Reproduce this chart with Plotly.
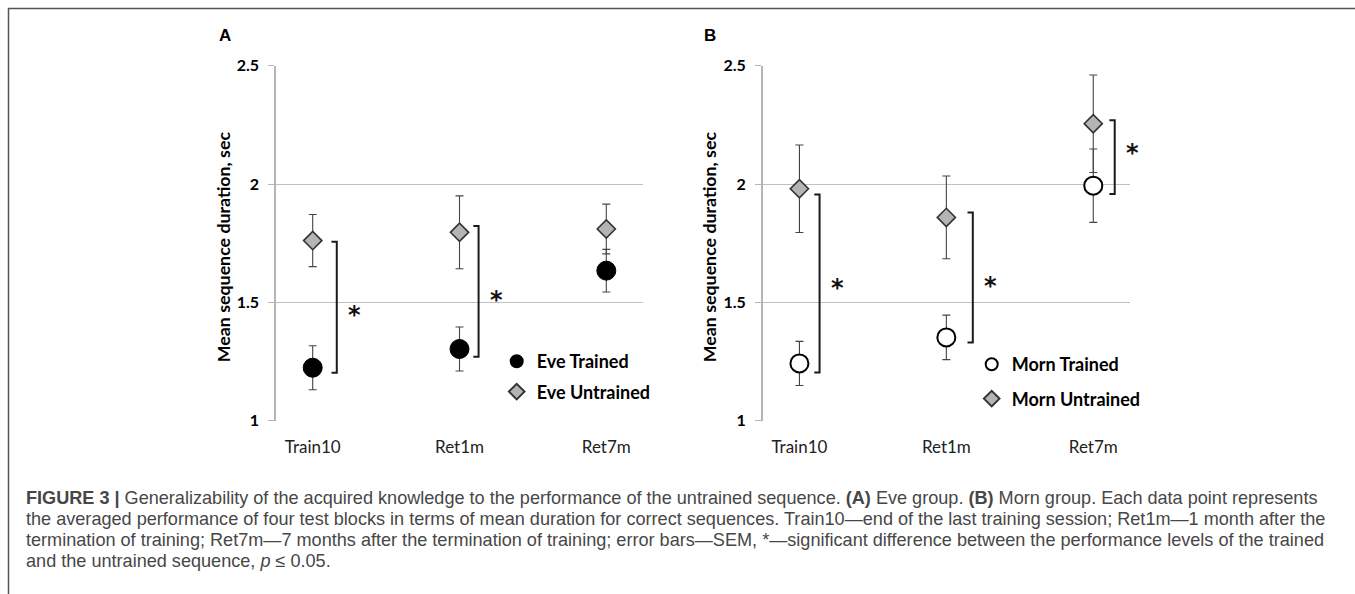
import plotly.graph_objects as go

W, H = 1355, 594

categories = ["Train10", "Ret1m", "Ret7m"]
y_ticks = [1, 1.5, 2, 2.5]
y_tick_labels = ["1", "1.5", "2", "2.5"]

eve_trained = [1.224, 1.303, 1.634]
eve_trained_sem = [0.093, 0.093, 0.090]
eve_untrained = [1.761, 1.796, 1.810]
eve_untrained_sem = [0.110, 0.154, 0.105]

morn_trained = [1.242, 1.352, 1.993]
morn_trained_sem = [0.093, 0.094, 0.155]
morn_untrained = [1.980, 1.859, 2.255]
morn_untrained_sem = [0.185, 0.175, 0.206]

# significance brackets: category index, top, bottom, star level
sig_a_idx = [0, 1]
sig_a_top = [1.756, 1.823]
sig_a_bottom = [1.203, 1.270]
sig_a_star = [1.460, 1.524]
sig_b_idx = [0, 1, 2]
sig_b_top = [1.956, 1.880, 2.270]
sig_b_bottom = [1.204, 1.330, 1.958]
sig_b_star = [1.573, 1.580, 2.144]

y_title = "Mean sequence duration, sec"
caption_lines = [
    "<b>FIGURE 3 |</b> Generalizability of the acquired knowledge to the performance of the untrained sequence. <b>(A)</b> Eve group. <b>(B)</b> Morn group. Each data point represents",
    "the averaged performance of four test blocks in terms of mean duration for correct sequences. Train10\u2014end of the last training session; Ret1m\u20141 month after the",
    "termination of training; Ret7m\u20147 months after the termination of training; error bars\u2014SEM, *\u2014significant difference between the performance levels of the trained",
    "and the untrained sequence, <i>p</i> \u2264 0.05.",
]

# ---- layout geometry (pixels) ----
xa0, xa1 = 276, 643
xb0, xb1 = 762.7, 1130
yt, yb = 65.7, 420.7


def px(x):
    return x / W


def py(y):
    return 1 - y / H


xidx = list(range(len(categories)))
CHART_FONT = "Lato, 'Open Sans', sans-serif"
ERR_COLOR = "#444444"

fig = go.Figure()


def add_series(name, y, sem, xaxis, yaxis, legend, symbol, fill, line_color, line_w, size):
    fig.add_trace(go.Scatter(
        x=xidx, y=y, mode="markers", name=name,
        xaxis=xaxis, yaxis=yaxis, legend=legend, legendgroup=name,
        marker=dict(symbol=symbol, size=size, color=fill,
                    line=dict(color=line_color, width=line_w)),
        error_y=dict(type="data", array=sem, visible=True,
                     color=ERR_COLOR, thickness=1.1, width=4),
        cliponaxis=False,
    ))


add_series("Eve Trained", eve_trained, eve_trained_sem, "x", "y", "legend",
           "circle", "#000000", "#000000", 1, 19)
add_series("Eve Untrained", eve_untrained, eve_untrained_sem, "x", "y", "legend",
           "diamond", "#b4b4b4", "#333333", 1.6, 14)
add_series("Morn Trained", morn_trained, morn_trained_sem, "x2", "y2", "legend2",
           "circle", "#ffffff", "#000000", 2, 18)
add_series("Morn Untrained", morn_untrained, morn_untrained_sem, "x2", "y2", "legend2",
           "diamond", "#b4b4b4", "#333333", 1.6, 14)

shapes = []
annotations = []

# brackets
BR_OFF = [0.164, 0.13]
BR_OFF_B = [0.137, 0.18, 0.146]
TICK = 0.036
STAR_SHIFT = 18  # px to the right of the bracket


def bracket(xref, yref, idx, top, bot, star, off):
    xb = idx + off
    path = f"M {xb - TICK} {top} L {xb} {top} L {xb} {bot} L {xb - TICK} {bot}"
    shapes.append(dict(type="path", path=path, xref=xref, yref=yref,
                       line=dict(color="#1a1a1a", width=2)))
    annotations.append(dict(x=xb, y=star, xref=xref, yref=yref,
                            text="<b>*</b>", showarrow=False, xanchor="center",
                            yanchor="middle", xshift=STAR_SHIFT, yshift=-3,
                            font=dict(family="DejaVu Sans, sans-serif", size=24, color="#111111")))


for i, t, b, s, o in zip(sig_a_idx, sig_a_top, sig_a_bottom, sig_a_star, BR_OFF):
    bracket("x", "y", i, t, b, s, o)
for i, t, b, s, o in zip(sig_b_idx, sig_b_top, sig_b_bottom, sig_b_star, BR_OFF_B):
    bracket("x2", "y2", i, t, b, s, o)

# frame lines
shapes.append(dict(type="line", xref="paper", yref="paper", x0=px(8), x1=1, y0=py(8.5), y1=py(8.5),
                   line=dict(color="#555555", width=1.5)))
shapes.append(dict(type="line", xref="paper", yref="paper", x0=px(8.5), x1=px(8.5), y0=py(8), y1=0,
                   line=dict(color="#555555", width=1.5)))

# panel labels
for lab, x, y in [("A", 225, 36), ("B", 710, 35)]:
    annotations.append(dict(x=px(x), y=py(y), xref="paper", yref="paper", text=f"<b>{lab}</b>",
                            showarrow=False, xanchor="center", yanchor="middle",
                            font=dict(family="Liberation Sans, Arial, sans-serif", size=17, color="#000")))

# y titles
for x in [223, 709]:
    annotations.append(dict(x=px(x), y=py((yt + yb) / 2 + 4), xref="paper", yref="paper",
                            text=f"<b>{y_title}</b>", textangle=-90, showarrow=False,
                            xanchor="center", yanchor="middle",
                            font=dict(family=CHART_FONT, size=17.8, color="#000")))

# caption
for k, line in enumerate(caption_lines):
    annotations.append(dict(x=px(24), y=py(498 + 21 * k), xref="paper", yref="paper",
                            text=line, showarrow=False, xanchor="left", yanchor="middle",
                            align="left",
                            font=dict(family="Liberation Sans, Arial, sans-serif", size=18.1,
                                      color="#474747")))

xaxis_common = dict(range=[-0.25, 2.25], tickmode="array", tickvals=xidx, ticktext=categories,
                    showgrid=False, zeroline=False, showline=False, ticks="",
                    ticklabelstandoff=14, automargin=False,
                    tickfont=dict(family=CHART_FONT, size=17, color="#222222"))
yaxis_common = dict(range=[1, 2.5], tickmode="array", tickvals=y_ticks, ticktext=y_tick_labels,
                    showgrid=True, gridcolor="#c0c0c0", gridwidth=1, zeroline=False,
                    showline=True, linecolor="#b5b5b5", linewidth=1.5,
                    ticks="outside", ticklen=6, tickcolor="#b5b5b5", tickwidth=1,
                    ticklabelstandoff=6, automargin=False,
                    tickfont=dict(family=CHART_FONT, size=16, color="#000000", weight="bold"))


def legend_cfg(x, y, gap):
    return dict(font=dict(family=CHART_FONT, size=18, color="#000000", weight="bold"),
                bgcolor="rgba(0,0,0,0)", borderwidth=0, tracegroupgap=gap,
                traceorder="grouped", itemsizing="constant",
                xanchor="left", yanchor="top", x=px(x), y=py(y))


fig.update_layout(
    width=W, height=H, margin=dict(l=0, r=0, t=0, b=0, autoexpand=False),
    paper_bgcolor="white", plot_bgcolor="white",
    showlegend=True,
    xaxis=dict(domain=[px(xa0), px(xa1)], anchor="y", **xaxis_common),
    yaxis=dict(domain=[py(yb), py(yt)], anchor="x", **yaxis_common),
    xaxis2=dict(domain=[px(xb0), px(xb1)], anchor="y2", **xaxis_common),
    yaxis2=dict(domain=[py(yb), py(yt)], anchor="x2", **yaxis_common),
    legend=legend_cfg(496.7, 343, 4),
    legend2=legend_cfg(971.7, 346, 8),
    shapes=shapes, annotations=annotations,
)

fig.write_html("out.html",
               post_script="document.body.style.margin='0';document.body.style.padding='0';")
